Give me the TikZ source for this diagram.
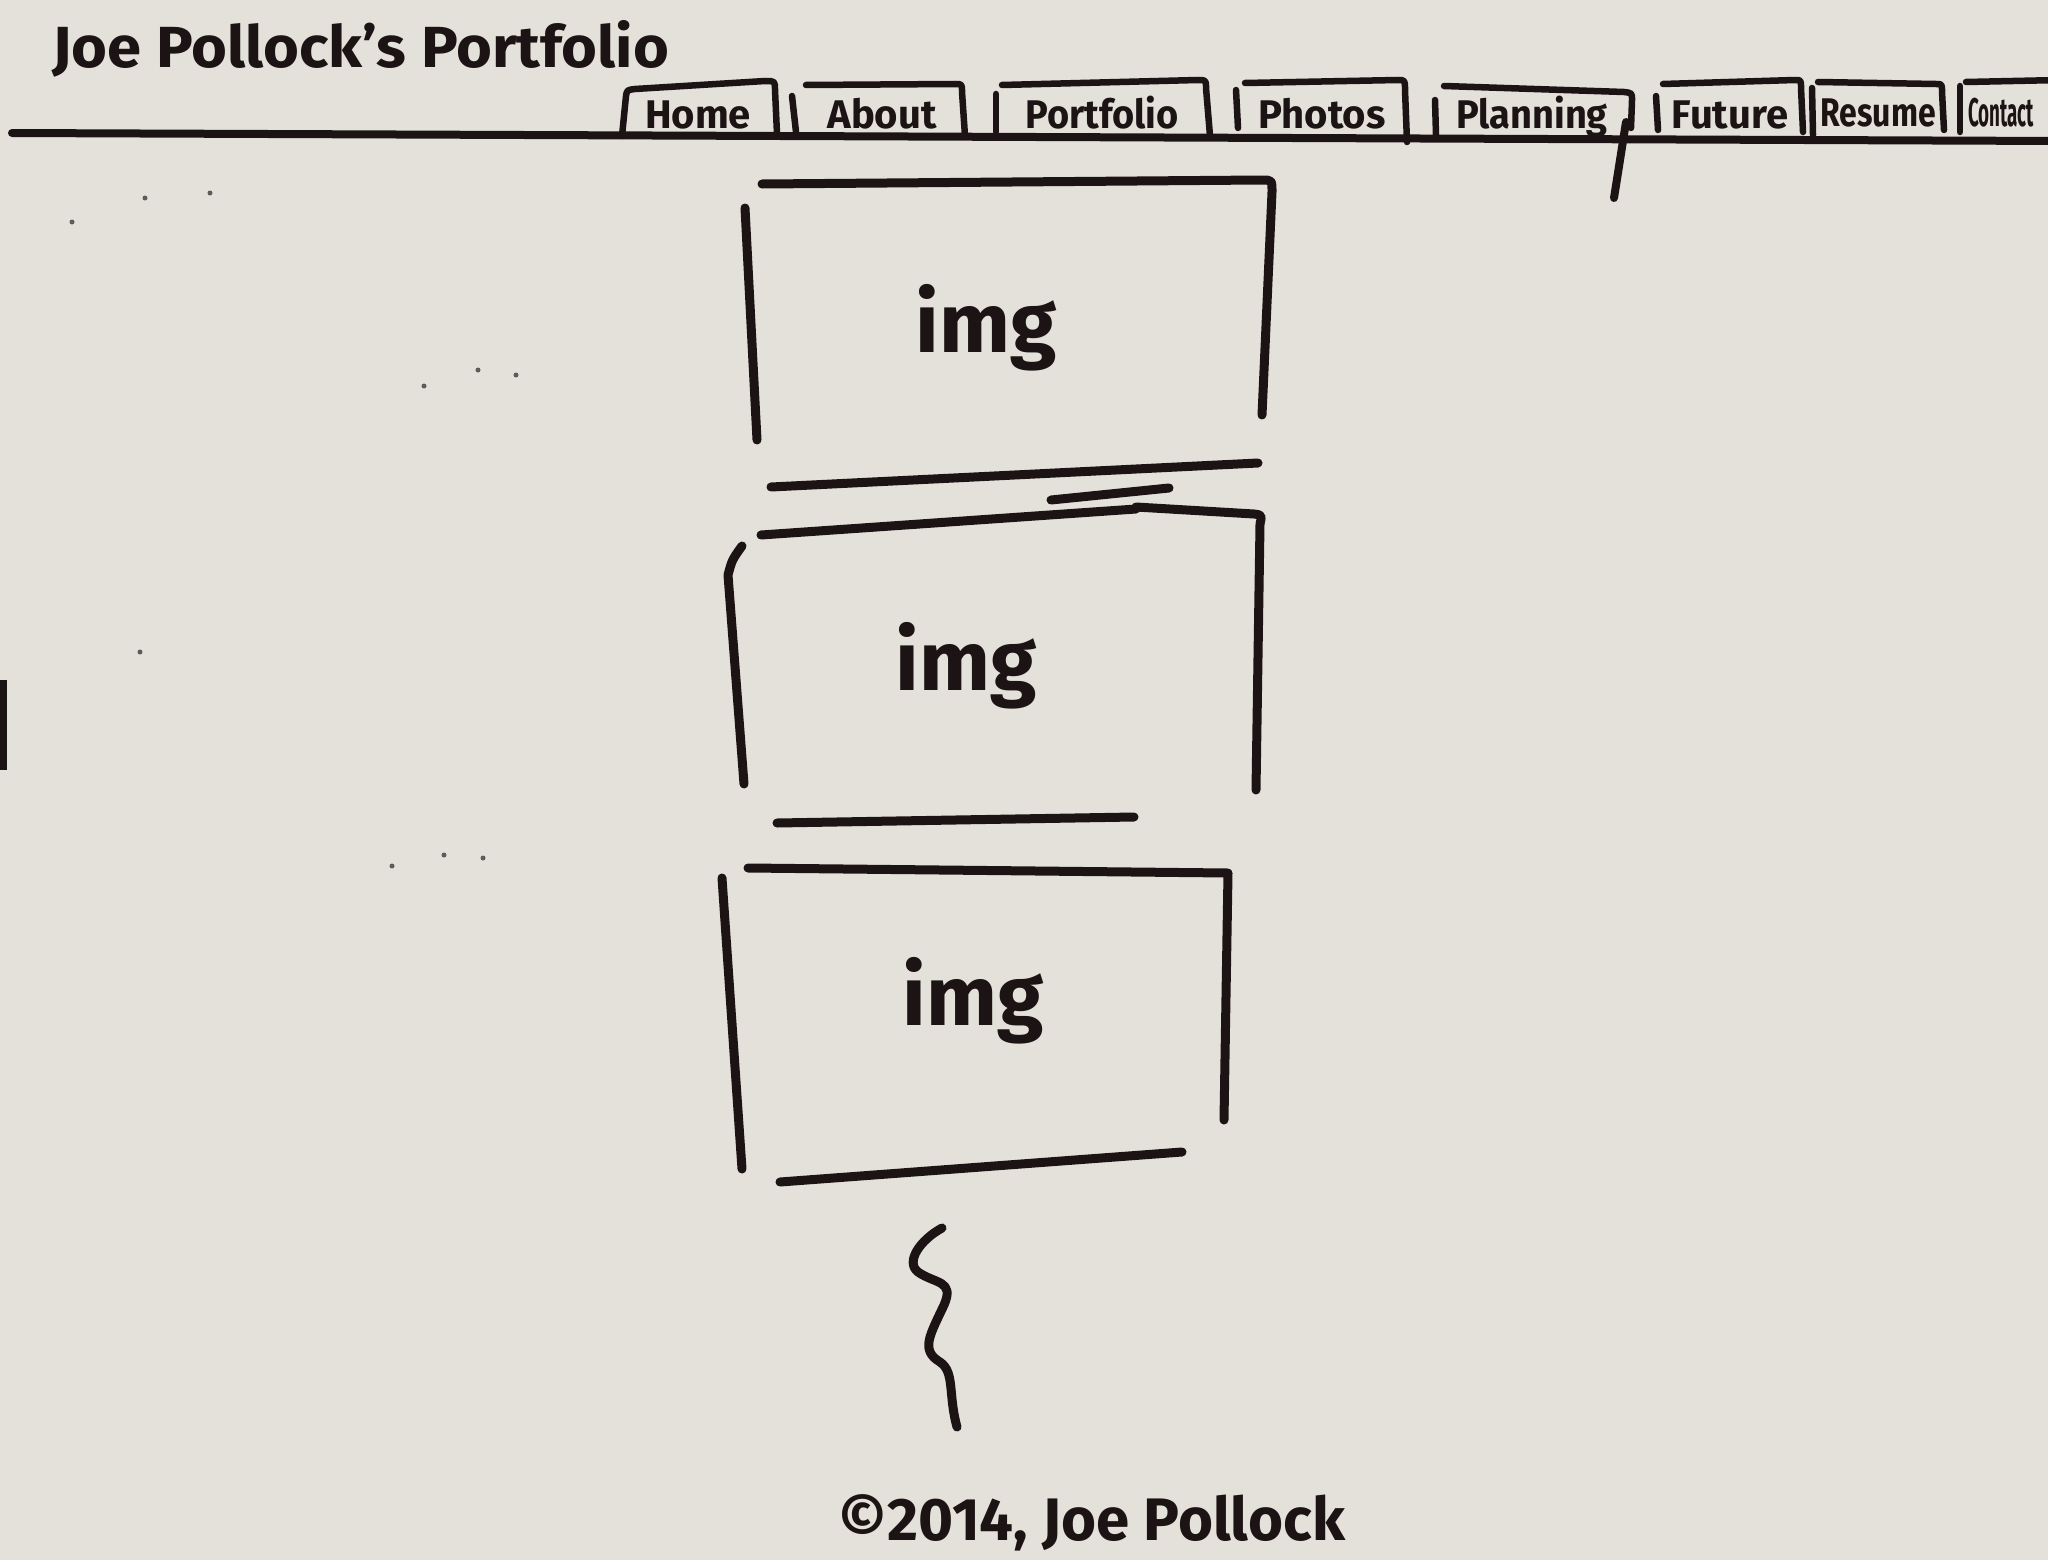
\documentclass[tikz,border=0pt]{standalone}
\usepackage{fontspec}
\setmainfont{Fira Sans}
\definecolor{paper}{RGB}{228,225,218}
\definecolor{ink}{RGB}{28,20,20}
\begin{document}
\begin{tikzpicture}[x=1pt,y=-1pt,
 pen/.style={draw=ink,line width=9pt,line cap=round,line join=round},
 tabpen/.style={draw=ink,line width=6.5pt,line cap=round,line join=round},
 tabtext/.style={text=ink,font=\fontsize{40}{44}\selectfont\bfseries,inner sep=0pt,anchor=base},
 imgtext/.style={text=ink,font=\fontsize{84}{90}\selectfont\bfseries,inner sep=0pt,anchor=base},
 speck/.style={fill=ink!70}]
\useasboundingbox (0,0) rectangle (2048,1560);
\clip (0,0) rectangle (2048,1560);
\fill[paper] (0,0) rectangle (2048,1560);
% left edge mark
\fill[ink] (0,680) rectangle (7,770);
% specks
\foreach \p in {(72,222),(145,198),(210,193),(424,386),(478,370),(516,375),(392,866),(444,855),(483,858),(140,652)}
  \fill[speck] \p circle (2.5);
% title
\node[text=ink,font=\fontsize{58}{62}\selectfont\bfseries,anchor=base west,inner sep=0pt] (title) at (52,68) {\scalebox{1.06}[1]{Joe Pollock's Portfolio}};
% header line
\coordinate (hl) at (12,133);
\coordinate (hr) at (2060,141);
\draw[pen,line width=8pt] (hl) -- (hr);
% tabs
\node[tabtext] (home) at (698,129) {Home};
\draw[tabpen] (622,136) -- (626,96) .. controls (627,90) .. (635,89) -- (765,81) .. controls (775,81) .. (775,90) -- (777,134);
\node[tabtext] (about) at (882,129) {About};
\draw[tabpen] (792,96) -- (796,132);
\draw[tabpen] (806,85) -- (955,84) .. controls (962,84) .. (962,92) -- (965,136);
\node[tabtext] (portfolio) at (1102,129) {\scalebox{0.95}[1]{Portfolio}};
\draw[tabpen] (996,94) -- (996,132);
\draw[tabpen] (1002,85) -- (1198,80) .. controls (1206,80) .. (1206,88) -- (1210,136);
\node[tabtext] (photos) at (1322,129) {Photos};
\draw[tabpen] (1236,90) -- (1238,128);
\draw[tabpen] (1245,83) -- (1398,80) .. controls (1405,80) .. (1405,90) -- (1407,142);
\node[tabtext] (planning) at (1532,129) {\scalebox{0.95}[1]{Planning}};
\draw[tabpen] (1435,100) -- (1436,135);
\draw[tabpen] (1444,86) -- (1624,92) .. controls (1632,93) .. (1632,100) -- (1631,128);
\coordinate (gtail) at (1614,198);
\draw[tabpen,line width=8pt] (1626,122) -- (gtail);
\node[tabtext] (future) at (1730,129) {Future};
\draw[tabpen] (1656,96) -- (1658,130);
\draw[tabpen] (1663,84) -- (1795,80) .. controls (1801,80) .. (1801,88) -- (1803,132);
\node[tabtext] (resume) at (1878,127) {\scalebox{0.8}[1]{Resume}};
\draw[tabpen] (1812,88) -- (1813,135);
\draw[tabpen] (1818,82) -- (1936,84) .. controls (1942,84) .. (1942,92) -- (1944,130);
\node[tabtext,anchor=base west] (contact) at (1968,127) {\scalebox{0.47}[1]{Contact}};
\draw[tabpen] (1960,86) -- (1960,132);
\draw[tabpen] (1966,82) -- (2060,80);
% box 1
\draw[pen] (762,184) -- (1262,180) .. controls (1272,180) .. (1272,192) -- (1262,415);
\draw[pen] (745,208) -- (757,440);
\draw[pen] (771,487) -- (1258,463);
\node[imgtext] (img1) at (986,352) {img};
% box 2
\draw[pen] (761,535) -- (1136,509);
\draw[pen] (1051,500) -- (1169,488);
\draw[pen] (1136,507) -- (1254,514) .. controls (1262,515) .. (1260,524) -- (1256,790);
\draw[pen] (742,546) .. controls (732,560) .. (728,575) -- (744,784);
\draw[pen] (777,823) -- (1134,817);
\node[imgtext] (img2) at (966,690) {img};
% box 3
\draw[pen] (748,868) -- (1228,873) -- (1224,1120);
\draw[pen] (722,878) -- (742,1169);
\draw[pen] (780,1182) -- (1182,1152);
\node[imgtext] (img3) at (973,1025) {img};
% squiggle
\coordinate (s0) at (942,1228);
\coordinate (s1) at (957,1427);
\draw[pen] (s0) .. controls (920,1240) and (905,1262) .. (918,1272)
  .. controls (935,1284) and (955,1280) .. (944,1305)
  .. controls (930,1335) and (920,1350) .. (940,1362)
  .. controls (955,1372) and (948,1395) .. (s1);
% copyright
\node[text=ink,font=\fontsize{60}{64}\selectfont\bfseries,anchor=base,inner sep=0pt] (copy) at (1092,1540) {©2014, Joe Pollock};
\end{tikzpicture}
\end{document}
